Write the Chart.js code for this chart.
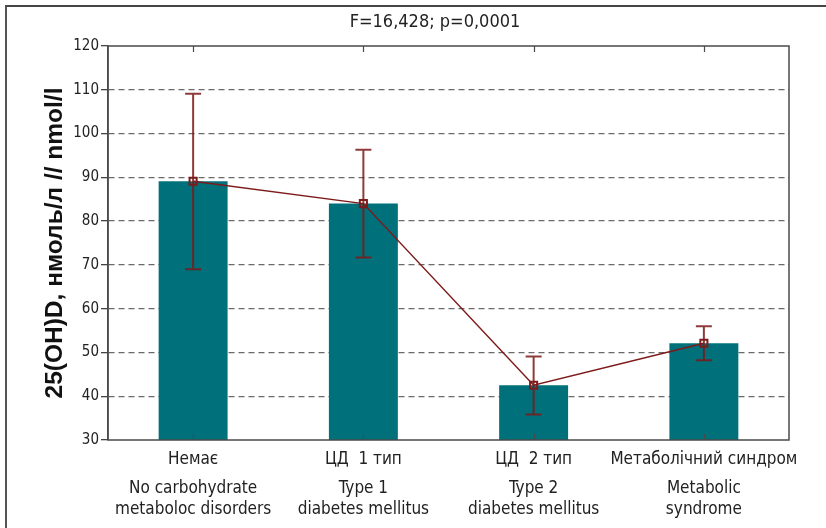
<!DOCTYPE html>
<html>
<head>
<meta charset="utf-8">
<script src="https://cdn.jsdelivr.net/npm/chart.js@4/dist/chart.umd.min.js"></script>
<style>
  html, body { margin: 0; padding: 0; background: #fff; overflow: hidden; }
  #wrap { position: relative; width: 826px; height: 528px; overflow: hidden; }
  #frame { position: absolute; left: 5px; top: 5px; right: -10px; bottom: -10px;
           border-left: 2px solid #555; border-top: 2px solid #444; }
  #c { position: absolute; left: 0; top: 0; }
</style>
</head>
<body>
<div id="wrap">
  <div id="frame"></div>
  <canvas id="c" width="870" height="528"></canvas>
</div>
<script>
// Group names (Ukrainian line and English lines)
const groupsUa = ['Немає', 'ЦД  1 тип', 'ЦД  2 тип', 'Метаболічний синдром'];
const groupsEn = [
  ['No carbohydrate', 'metaboloc disorders'],
  ['Type 1', 'diabetes mellitus'],
  ['Type 2', 'diabetes mellitus'],
  ['Metabolic', 'syndrome']
];
// 25(OH)D means and the ends of their whiskers
const meanValues  = [89.1, 84.0, 42.5, 52.1];
const upperValues = [109.1, 96.3, 49.1, 56.0];
const lowerValues = [69.0, 71.7, 35.8, 48.2];
// Value axis ticks
const yTicks = [30, 40, 50, 60, 70, 80, 90, 100, 110, 120];
const statsText = 'F=16,428; p=0,0001';
const yTitleText = '25(OH)D, нмоль/л // nmol/l';

const NARROW = '"DejaVu Sans Condensed", "Liberation Sans", sans-serif';
const TEAL = '#00707b';
const DARKRED = '#7d1a1a';

// Plot frame with inward ticks at the group centres
const framePlugin = {
  id: 'plotFrame',
  afterDatasetsDraw(chart) {
    const { ctx, chartArea: a, scales } = chart;
    ctx.save();
    ctx.strokeStyle = '#4a4a4a';
    ctx.lineWidth = 1.5;
    ctx.strokeRect(a.left, a.top, a.right - a.left, a.bottom - a.top);
    ctx.lineWidth = 1.2;
    ctx.beginPath();
    groupsUa.forEach((_, i) => {
      const x = Math.round(scales.x.getPixelForValue(i)) + 0.5;
      ctx.moveTo(x, a.top); ctx.lineTo(x, a.top + 6);
      ctx.moveTo(x, a.bottom); ctx.lineTo(x, a.bottom - 6);
    });
    ctx.stroke();
    ctx.restore();
  }
};

// Whiskers drawn under the mean line
const whiskerPlugin = {
  id: 'whiskers',
  beforeDatasetDraw(chart, args) {
    if (args.index !== 1) return;
    const { ctx, scales } = chart;
    ctx.save();
    ctx.strokeStyle = 'rgba(125,25,25,0.85)';
    ctx.lineWidth = 2;
    ctx.beginPath();
    meanValues.forEach((_, i) => {
      const x = scales.x.getPixelForValue(i);
      const yt = scales.y.getPixelForValue(upperValues[i]);
      const yb = scales.y.getPixelForValue(lowerValues[i]);
      ctx.moveTo(x, yt); ctx.lineTo(x, yb);
      ctx.moveTo(x - 8, yt); ctx.lineTo(x + 8, yt);
      ctx.moveTo(x - 8, yb); ctx.lineTo(x + 8, yb);
    });
    ctx.stroke();
    ctx.restore();
  }
};

new Chart(document.getElementById('c'), {
  data: {
    labels: groupsUa,
    datasets: [
      {
        type: 'bar',
        data: meanValues,
        backgroundColor: TEAL,
        barPercentage: 0.405,
        categoryPercentage: 1,
        order: 2
      },
      {
        type: 'line',
        data: meanValues,
        borderColor: DARKRED,
        borderWidth: 1.5,
        pointStyle: 'rect',
        pointRadius: 5,
        pointBorderWidth: 2,
        pointBorderColor: DARKRED,
        pointBackgroundColor: 'rgba(0,0,0,0)',
        tension: 0,
        order: 1
      }
    ]
  },
  options: {
    responsive: false,
    animation: false,
    events: [],
    layout: { padding: { left: 31, right: 31, top: 0, bottom: 8 } },
    plugins: {
      legend: { display: false },
      tooltip: { enabled: false },
      title: {
        display: true,
        text: statsText,
        color: '#222',
        font: { family: NARROW, size: 18, weight: 'normal' },
        padding: { top: 12, bottom: 12.4 }
      }
    },
    scales: {
      x: {
        type: 'category',
        position: 'bottom',
        weight: 0,
        afterFit: s => { s.height = 30; },
        grid: { display: false, drawTicks: false },
        border: { display: false },
        ticks: {
          color: '#222',
          font: { family: NARROW, size: 17 },
          padding: 9,
          maxRotation: 0, minRotation: 0, autoSkip: false
        }
      },
      x2: {
        type: 'category',
        position: 'bottom',
        weight: 1,
        offset: true,
        labels: groupsEn,
        afterFit: s => { s.height = 50; },
        grid: { display: false, drawTicks: false },
        border: { display: false },
        ticks: {
          color: '#222',
          font: { family: NARROW, size: 17, lineHeight: 1.18 },
          padding: 9,
          maxRotation: 0, minRotation: 0, autoSkip: false
        }
      },
      y: {
        min: 30,
        max: 120,
        afterBuildTicks: s => { s.ticks = yTicks.map(v => ({ value: v })); },
        afterFit: s => { s.width = 77; },
        grid: {
          color: c => (c.tick && (c.tick.value === 30 || c.tick.value === 120)) ? 'rgba(0,0,0,0)' : '#6a6a6a',
          lineWidth: 1.3,
          tickColor: '#444',
          tickLength: 7,
          tickBorderDash: []
        },
        border: { display: true, color: '#4a4a4a', width: 1.5, dash: [6, 4] },
        ticks: {
          color: '#222',
          font: { family: NARROW, size: 15 },
          padding: 2
        },
        title: {
          display: true,
          text: yTitleText,
          color: '#111',
          font: { family: '"Liberation Sans", Arial, sans-serif', size: 24.5, weight: 'bold' },
          padding: { top: 9.5, bottom: 0 }
        }
      },
      // empty spacer on the right side of the plot
      ySpace: {
        type: 'linear',
        position: 'right',
        min: 30,
        max: 120,
        afterFit: s => { s.width = 50; },
        grid: { display: false, drawTicks: false },
        border: { display: false },
        ticks: { display: false }
      }
    }
  },
  plugins: [whiskerPlugin, framePlugin]
});
</script>
</body>
</html>
